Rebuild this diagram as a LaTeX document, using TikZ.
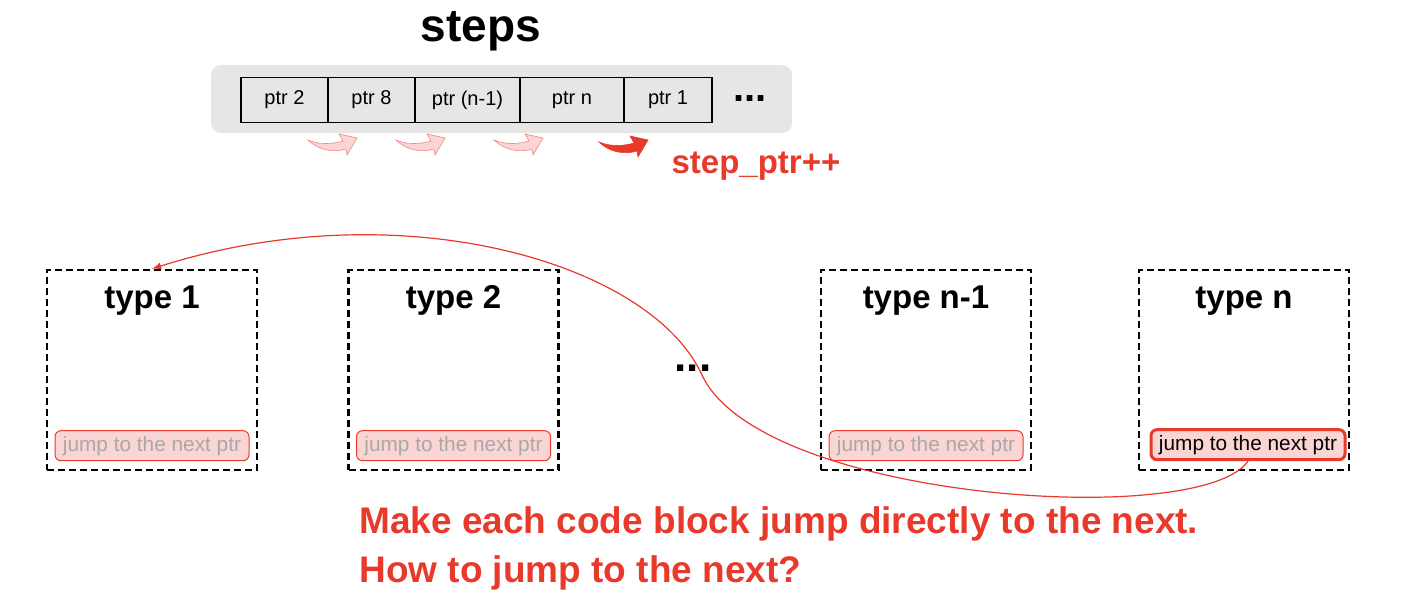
\documentclass[tikz,border=0pt]{standalone}
\usepackage{fontspec}
\setmainfont{Liberation Sans}
\usetikzlibrary{calc,positioning}

\definecolor{jred}{HTML}{E8392B}
\definecolor{jpink}{HTML}{FBD5D3}
\definecolor{jgray}{HTML}{A8A8A8}
\definecolor{bggray}{HTML}{E6E6E6}

\begin{document}
\begin{tikzpicture}[
                x=0.5pt, y=-0.5pt,
                >=latex,
                every node/.style={align=center},
                cell/.style={draw, fill=bggray, line width=0.6pt, inner sep=0pt, minimum height=22.5pt, font=\fontsize{10}{12}\selectfont},
                typebox/.style={draw, line width=1.2pt, dash pattern=on 3.5pt off 2pt, minimum width=105pt, minimum height=100pt},
                typetitle/.style={font=\fontsize{16.5}{20}\selectfont\bfseries},
                jumpbox/.style={draw=jred, fill=jpink, line width=0.5pt, rounded corners=3pt, inner sep=0pt, minimum width=97pt, minimum height=15pt, text=jgray, font=\fontsize{10.4}{12}\selectfont},
                curjump/.style={line width=1.5pt, text=black},
                bigdots/.style={font=\fontsize{20}{20}\selectfont\bfseries, inner sep=0pt},
                note/.style={text=jred, font=\fontsize{18.5}{23}\selectfont\bfseries, anchor=base west, inner sep=0pt},
                palearrow/.style={fill=jpink, draw=jred!60, line width=0.3pt},
                fullarrow/.style={fill=jred, draw=jred, line width=0.3pt}
            ]
            \useasboundingbox (0,0) rectangle (1418,594);

            % the steps array
            \node[font=\fontsize{23}{26}\selectfont\bfseries] (steps) at (481,31) {steps};
            \fill[bggray, rounded corners=5pt] (211,65) rectangle (792,133);
            \foreach \name/\lbl/\cx/\w in {c1/ptr 2/284.5/43.5, c2/ptr 8/371.5/43.5, c3/ptr (n-1)/467.5/52.5, c4/ptr n/572/52, c5/ptr 1/668/44}
                \node[cell, minimum width=\w pt] (\name) at (\cx,100) {\lbl};
            \node[bigdots] (moresteps) at (750,99) {...};

            % step arrows
            \foreach \ax in {308, 396, 494}
                \filldraw[palearrow, shift={(\ax,133)}] (0,7) .. controls (12,12) and (25,11) .. (35,8) -- (31,1) -- (49,5) -- (39,22) -- (38,16) .. controls (25,20) and (10,17) .. (0,7) -- cycle;
            \filldraw[fullarrow, shift={(599,135)}] (0,7) .. controls (12,12) and (25,11) .. (35,8) -- (31,1) -- (49,5) -- (39,22) -- (38,16) .. controls (25,20) and (10,17) .. (0,7) -- cycle;
            \node[text=jred, font=\fontsize{16.5}{20}\selectfont\bfseries] (stepptr) at (756,166) {step\_ptr++};

            % the code blocks
            \foreach \i/\cx/\lbl in {1/152/type 1, 2/453.5/type 2, 3/926/type n-1, 4/1244/type n} {
                \node[typebox] (box\i) at (\cx,370) {};
                \node[typetitle] (title\i) at ($(box\i.north)+(0,32)$) {\lbl};
            }
            \foreach \i in {1,2,3}
                \node[jumpbox, above=5pt of box\i.south] (jump\i) {jump to the next ptr};
            \node[jumpbox, curjump, above=5pt of box4.south, xshift=2pt] (jump4) {jump to the next ptr};
            \node[font=\fontsize{22}{22}\selectfont\bfseries, inner sep=0pt] (moretypes) at (693,368) {...};

            % jump back to the first block
            \coordinate (bend) at (702,375);
            \draw[->, jred, line width=0.6pt] (jump4.south) .. controls (1200,530) and (760,500) .. (bend)
                .. controls (650,262) and (400,190) .. (box1.north);

            \node[note] (msg1) at (359,533) {Make each code block jump directly to the next.};
            \node[note] (msg2) at (359,582) {How to jump to the next?};
        \end{tikzpicture}
\end{document}
